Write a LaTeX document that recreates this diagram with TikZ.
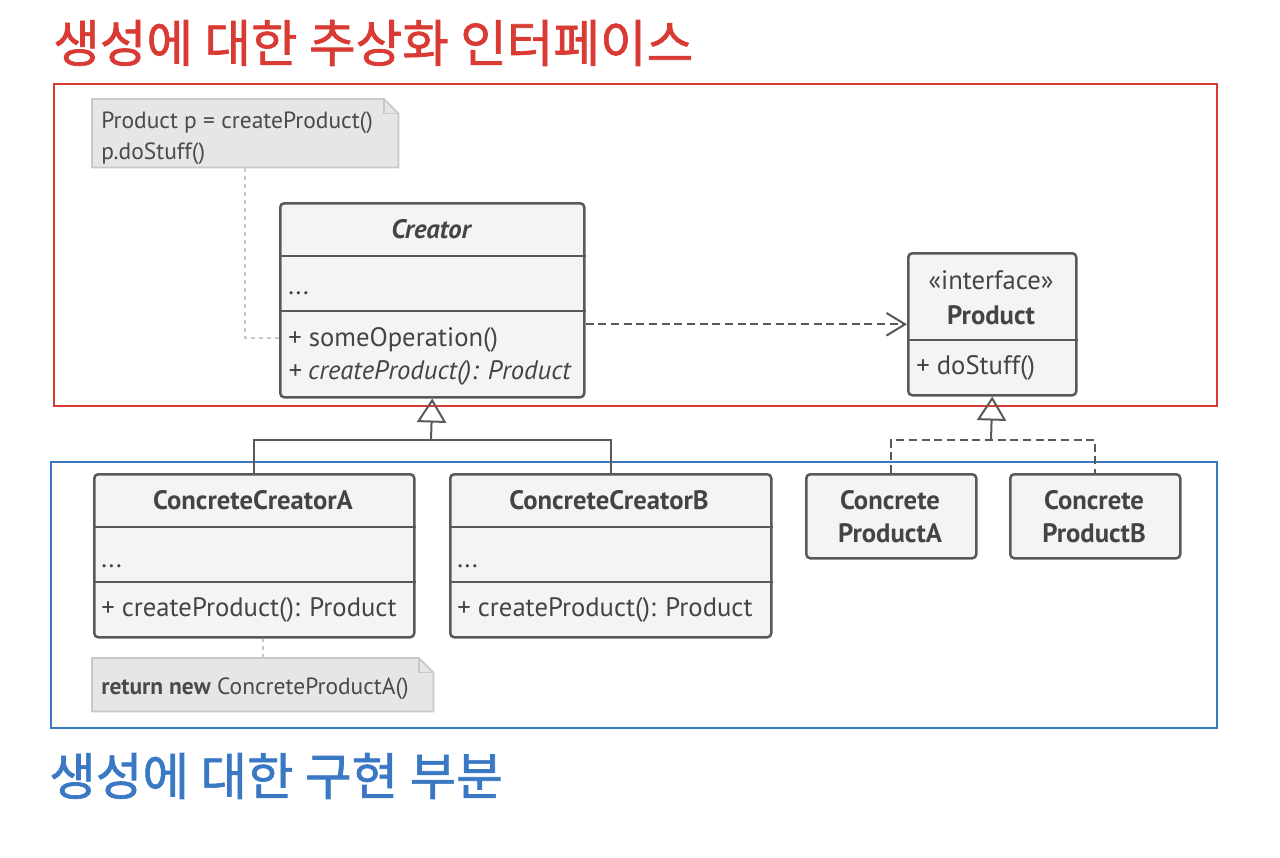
\documentclass[tikz,border=0pt]{standalone}
\usepackage{fontspec}
\setmainfont{PT Sans}
\newfontfamily\kr{Noto Sans CJK KR}[FakeBold=1.3]
\usetikzlibrary{arrows.meta,calc}
\definecolor{redc}{HTML}{D93A34}
\definecolor{bluec}{HTML}{3A78C4}
\definecolor{boxline}{HTML}{595959}
\definecolor{boxfill}{HTML}{F4F4F4}
\definecolor{txt}{HTML}{444444}
\definecolor{notefill}{HTML}{E6E6E6}
\definecolor{noteline}{HTML}{C8C8C8}
\definecolor{notetxt}{HTML}{4A4A4A}
\begin{document}
\begin{tikzpicture}[x=0.75pt,y=-0.75pt,
  cls/.style={draw=boxline, fill=boxfill, line width=1.9pt, rounded corners=3pt, inner sep=0, anchor=north west},
  sep/.style={draw=boxline, line width=1.9pt},
  frame/.style={line width=1.6pt, inner sep=0, anchor=north west},
  txtl/.style={anchor=west, inner sep=0, yshift=-1.5pt, text=txt, font=\fontsize{20}{24}\selectfont},
  dots/.style={txtl, yshift=-3.5pt},
  txtc/.style={anchor=center, inner sep=0, text=txt, font=\fontsize{20}{24}\selectfont\bfseries},
  notebox/.style={inner sep=0, anchor=north west},
  notepath/.style={fill=notefill, draw=noteline, line width=1.3pt},
  notetext/.style={anchor=west, inner sep=0, yshift=-1pt, text=notetxt, font=\fontsize{17.6}{21}\selectfont},
  noteconn/.style={draw=noteline, line width=1.5pt, dash pattern=on 3pt off 3pt},
  conn/.style={draw=boxline, line width=1.5pt},
  dep/.style={draw=boxline, line width=1.5pt, dash pattern=on 6pt off 3.5pt},
  gen/.style={-{Triangle[open,length=18pt,width=22pt,line width=1.5pt]}},
  title/.style={anchor=west, inner sep=0, font=\kr\fontsize{38}{44}\selectfont}
]
\useasboundingbox (0,0) rectangle (1280,857);

% titles
\node[title, text=redc] (t1) at (53,43) {생성에 대한 추상화 인터페이스};
\node[title, text=bluec] (t2) at (49,776) {생성에 대한 구현 부분};

% frames
\node[frame, draw=redc, minimum width=872.25pt, minimum height=241.5pt] (absf) at (53,83) {};
\node[frame, draw=bluec, minimum width=874.5pt, minimum height=199.5pt] (impf) at (50,461) {};

% Creator
\node[cls, minimum width=228pt, minimum height=145.5pt] (creator) at (279,202) {};
\draw[sep] (creator.west |- 0,256) -- (creator.east |- 0,256);
\draw[sep] (creator.west |- 0,311) -- (creator.east |- 0,311);
\node[txtc, font=\fontsize{20}{24}\selectfont\bfseries\itshape] (creatorT) at (431,229) {Creator};
\node[dots] (creatorA) at (288,287) {...};
\node[txtl] (creatorM1) at (288,338) {+ someOperation()};
\node[txtl, font=\fontsize{20}{24}\selectfont\itshape] (creatorM2) at (288,371) {+ createProduct(): Product};

% Product
\node[cls, minimum width=126pt, minimum height=106.5pt] (product) at (907,252) {};
\draw[sep] (product.west |- 0,340) -- (product.east |- 0,340);
\node[txtc, font=\fontsize{20}{24}\selectfont] (productS) at (991,280) {«interface»};
\node[txtc] (productT) at (991,315) {Product};
\node[txtl] (productM) at (916,366) {+ doStuff()};

% ConcreteCreatorA
\node[cls, minimum width=240pt, minimum height=122.25pt] (cca) at (93,473) {};
\draw[sep] (cca.west |- 0,527) -- (cca.east |- 0,527);
\draw[sep] (cca.west |- 0,582) -- (cca.east |- 0,582);
\node[txtc] (ccaT) at (253,500) {ConcreteCreatorA};
\node[dots] (ccaA) at (101,560) {...};
\node[txtl] (ccaM) at (101,608) {+ createProduct(): Product};

% ConcreteCreatorB
\node[cls, minimum width=240.75pt, minimum height=122.25pt] (ccb) at (449,473) {};
\draw[sep] (ccb.west |- 0,527) -- (ccb.east |- 0,527);
\draw[sep] (ccb.west |- 0,582) -- (ccb.east |- 0,582);
\node[txtc] (ccbT) at (609,500) {ConcreteCreatorB};
\node[dots] (ccbA) at (457,560) {...};
\node[txtl] (ccbM) at (457,608) {+ createProduct(): Product};

% Concrete products
\node[cls, minimum width=127.5pt, minimum height=63pt] (cpa) at (805,473) {};
\node[txtc, align=center, font=\fontsize{20}{24.75}\selectfont\bfseries] (cpaT) at (890,517) {Concrete\\ProductA};
\node[cls, minimum width=127.5pt, minimum height=63pt] (cpb) at (1009,473) {};
\node[txtc, align=center, font=\fontsize{20}{24.75}\selectfont\bfseries] (cpbT) at (1094,517) {Concrete\\ProductB};

% Notes
\node[notebox, minimum width=229.5pt, minimum height=51pt] (n1) at (92,99) {};
\path[notepath] (n1.north west) -- ([xshift=-11pt]n1.north east) -- ([yshift=-11pt]n1.north east) -- (n1.south east) -- (n1.south west) -- cycle;
\draw[draw=noteline, line width=1.1pt] ([xshift=-11pt]n1.north east) |- ([yshift=-11pt]n1.north east);
\node[notetext] (n1a) at (101,121) {Product p = createProduct()};
\node[notetext] (n1b) at (101,152) {p.doStuff()};

\node[notebox, minimum width=255.75pt, minimum height=39.75pt] (n2) at (92,658) {};
\path[notepath] (n2.north west) -- ([xshift=-11pt]n2.north east) -- ([yshift=-11pt]n2.north east) -- (n2.south east) -- (n2.south west) -- cycle;
\draw[draw=noteline, line width=1.1pt] ([xshift=-11pt]n2.north east) |- ([yshift=-11pt]n2.north east);
\node[notetext] (n2a) at (101,687) {\textbf{return new} ConcreteProductA()};

% note connectors
\draw[noteconn] (n1.south) |- (creator.west |- 0,338);
\draw[noteconn] (n2.north) -- (n2.north |- cca.south);

% dependency
\draw[dep, -{Straight Barb[length=14pt,width=17pt,line width=1.5pt]}] (product.west -| creator.east) -- (product.west);

% generalization creators
\coordinate (j1) at (431,440);
\draw[conn] (cca.north) |- (j1) -| (ccb.north);
\draw[conn, gen] (j1) -- (creator.south);

% realization products
\coordinate (j2) at (991,440);
\draw[dep] (cpa.north) |- (j2) -| (cpb.north);
\draw[conn, gen] (j2) -- (product.south);
\end{tikzpicture}
\end{document}
